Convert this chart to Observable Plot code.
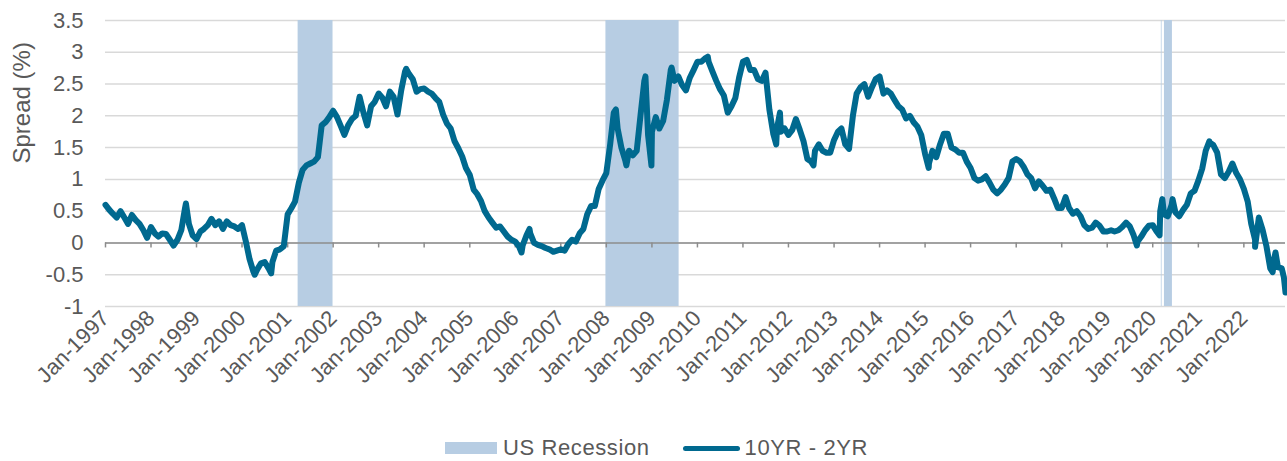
<!DOCTYPE html>
<html>
<head>
<meta charset="utf-8">
<script src="https://cdn.jsdelivr.net/npm/d3@7"></script>
<script src="https://cdn.jsdelivr.net/npm/@observablehq/plot@0.6"></script>
<style>
  html, body { margin: 0; padding: 0; background: #fff; }
  #chart svg { display: block; }
  #legend {
    display: flex; align-items: center; justify-content: center;
    padding-left: 26px; margin-top: 16px; height: 24px;
    font-family: "Liberation Sans", Arial, sans-serif; font-size: 22px; letter-spacing: 0.6px; color: #595959;
  }
  .sw-rect { width: 52px; height: 12px; background: #b7cde3; margin-right: 6px; }
  .sw-line { width: 57px; height: 5px; border-radius: 3px; background: #00698f; margin-left: 33px; margin-right: 5px; }
</style>
</head>
<body>
<div id="chart"></div>
<div id="legend"><span class="sw-rect"></span><span>US Recession</span><span class="sw-line"></span><span>10YR - 2YR</span></div>
<script>
// Monthly 10YR - 2YR spread (%), first of each month, Jan 1997 .. Dec 2022
const firstMonth = "1997-01-01";
const spread = [
  // 1997
  0.60, 0.52, 0.46, 0.40, 0.50, 0.40, 0.30, 0.44, 0.36, 0.30, 0.20, 0.08,
  // 1998
  0.25, 0.15, 0.10, 0.15, 0.14, 0.05, -0.04, 0.05, 0.20, 0.55, 0.30, 0.12,
  // 1999
  0.06, 0.18, 0.22, 0.28, 0.38, 0.28, 0.34, 0.22, 0.34, 0.28, 0.26, 0.22,
  // 2000
  0.28, 0.02, -0.25, -0.45, -0.42, -0.32, -0.30, -0.40, -0.30, -0.12, -0.10, -0.05,
  // 2001
  0.45, 0.55, 0.65, 0.95, 1.15, 1.22, 1.25, 1.28, 1.35, 1.85, 1.90, 1.98,
  // 2002
  2.08, 1.98, 1.85, 1.70, 1.85, 1.95, 2.00, 2.30, 2.05, 1.85, 2.15, 2.22,
  // 2003
  2.35, 2.28, 2.15, 2.38, 2.30, 2.02, 2.40, 2.70, 2.66, 2.58, 2.38, 2.42,
  // 2004
  2.43, 2.38, 2.35, 2.28, 2.22, 2.02, 1.88, 1.80, 1.60, 1.49, 1.36, 1.18,
  // 2005
  1.07, 0.84, 0.77, 0.66, 0.50, 0.40, 0.32, 0.24, 0.26, 0.18, 0.10, 0.05,
  // 2006
  0.02, -0.06, -0.04, 0.12, 0.15, 0.00, -0.03, -0.05, -0.08, -0.10, -0.14, -0.12,
  // 2007
  -0.10, -0.12, -0.02, 0.05, 0.02, 0.15, 0.22, 0.45, 0.58, 0.58, 0.85, 0.98,
  // 2008
  1.10, 1.55, 2.05, 1.80, 1.50, 1.30, 1.45, 1.38, 1.45, 2.00, 2.55, 1.70,
  // 2009
  1.75, 1.98, 1.80, 1.92, 2.25, 2.72, 2.55, 2.62, 2.48, 2.40, 2.60, 2.72,
  // 2010
  2.85, 2.85, 2.90, 2.85, 2.70, 2.55, 2.42, 2.32, 2.05, 2.15, 2.28, 2.60,
  // 2011
  2.85, 2.88, 2.72, 2.72, 2.58, 2.55, 2.68, 2.10, 1.72, 1.80, 1.75, 1.80,
  // 2012
  1.70, 1.78, 1.95, 1.78, 1.60, 1.32, 1.28, 1.45, 1.55, 1.45, 1.42, 1.42,
  // 2013
  1.62, 1.75, 1.80, 1.55, 1.48, 2.00, 2.35, 2.45, 2.50, 2.30, 2.45, 2.58,
  // 2014
  2.62, 2.35, 2.40, 2.35, 2.25, 2.15, 2.10, 1.96, 2.00, 1.90, 1.83, 1.70,
  // 2015
  1.40, 1.25, 1.45, 1.35, 1.55, 1.72, 1.72, 1.50, 1.47, 1.42, 1.42, 1.28,
  // 2016
  1.18, 1.02, 0.98, 1.00, 1.05, 0.95, 0.84, 0.78, 0.84, 0.92, 1.02, 1.28,
  // 2017
  1.32, 1.28, 1.20, 1.08, 1.02, 0.86, 0.97, 0.90, 0.82, 0.84, 0.70, 0.55,
  // 2018
  0.55, 0.72, 0.55, 0.46, 0.50, 0.42, 0.28, 0.22, 0.24, 0.32, 0.27, 0.18,
  // 2019
  0.18, 0.20, 0.18, 0.20, 0.25, 0.32, 0.26, 0.12, 0.02, 0.10, 0.20, 0.27,
  // 2020
  0.28, 0.18, 0.50, 0.45, 0.42, 0.60, 0.48, 0.42, 0.52, 0.60, 0.78, 0.82,
  // 2021
  0.98, 1.17, 1.45, 1.58, 1.54, 1.42, 1.08, 1.02, 1.12, 1.25, 1.10, 1.00,
  // 2022
  0.85, 0.65, 0.30, 0.05, 0.40, 0.20, -0.05, -0.40, -0.25, -0.38, -0.40, -0.78
];

// Intra-month extremes visible in the chart
const spikeDates = [
  "1998-10-08", "2000-04-12", "2000-08-22", "2003-08-10", "2006-02-20", "2006-04-25",
  "2008-03-18", "2008-06-10", "2008-11-10", "2008-12-28", "2009-06-08", "2010-03-25",
  "2011-09-25", "2011-10-25", "2012-07-20", "2015-01-30", "2019-08-27", "2020-02-25",
  "2020-03-18", "2020-06-08", "2021-03-30", "2022-04-01", "2022-08-20", "2022-09-12",
  "2022-11-18"
];
const spikeValues = [
  0.62, -0.50, -0.48, 2.74, -0.15, 0.22,
  2.10, 1.22, 2.62, 1.22, 2.76, 2.93,
  1.55, 2.05, 1.22, 1.18, -0.04, 0.12,
  0.69, 0.69, 1.60, -0.06, -0.46, -0.15,
  -0.54
];

// US recession periods
const recessionStarts = ["2001-03-26", "2007-12-29", "2020-03-10", "2020-04-04"];
const recessionEnds   = ["2001-12-31", "2009-08-07", "2020-03-16", "2020-06-07"];

const yTicks = [-1, -0.5, 0, 0.5, 1, 1.5, 2, 2.5, 3, 3.5];
const yLabel = "Spread (%)";
const xTickYears = [1997, 1998, 1999, 2000, 2001, 2002, 2003, 2004, 2005, 2006, 2007, 2008, 2009,
  2010, 2011, 2012, 2013, 2014, 2015, 2016, 2017, 2018, 2019, 2020, 2021, 2022];
const xTickLabels = xTickYears.map(y => "Jan-" + y);

const t0 = new Date(firstMonth);
const monthly = spread.map((v, i) => ({date: d3.utcMonth.offset(t0, i), value: v}));
const spikes = spikeDates.map((d, i) => ({date: new Date(d), value: spikeValues[i]}));
const series = monthly.concat(spikes).sort((a, b) => a.date - b.date);
const recessions = recessionStarts.map((s, i) => ({start: new Date(s), end: new Date(recessionEnds[i])}));
const xTicks = xTickYears.map(y => new Date(Date.UTC(y, 0, 1)));
const xDomain = [t0, monthly[monthly.length - 1].date];

const chart = Plot.plot({
  width: 1287,
  height: 420,
  marginLeft: 105,
  marginRight: 2,
  marginTop: 20,
  marginBottom: 114,
  style: {fontFamily: "'Liberation Sans', Arial, sans-serif", fontSize: "22px", color: "#595959", background: "#fff"},
  x: {type: "utc", domain: xDomain},
  y: {domain: [-1, 3.5]},
  marks: [
    Plot.gridY(yTicks, {stroke: "#d9d9d9", strokeOpacity: 1, strokeWidth: 1.5}),
    Plot.rect(recessions, {x1: "start", x2: "end", fill: "#b7cde3"}),
    Plot.ruleY([0], {stroke: "#8c8c8c", strokeWidth: 1.5}),
    Plot.ruleX(xTicks, {x: d => d, y1: 0, y2: 0, insetBottom: -5, stroke: "#8c8c8c", strokeWidth: 1.5}),
    Plot.line(series, {x: "date", y: "value", stroke: "#00698f", strokeWidth: 6, strokeLinejoin: "round", strokeLinecap: "round"}),
    Plot.axisY(yTicks, {tickSize: 0, tickPadding: 22, tickFormat: d => String(d), label: null, fontSize: 22, style: {letterSpacing: "1px"}}),
    Plot.text([yLabel], {frameAnchor: "left", dx: -83, rotate: -90, fontSize: 24, fill: "#595959", style: {letterSpacing: "0.8px"}}),
    Plot.axisX(xTicks, {tickSize: 0, tickPadding: 8, tickRotate: -45, tickFormat: (d, i) => xTickLabels[i], label: null, fontSize: 22})
  ]
});
document.getElementById("chart").appendChild(chart);
</script>
</body>
</html>
